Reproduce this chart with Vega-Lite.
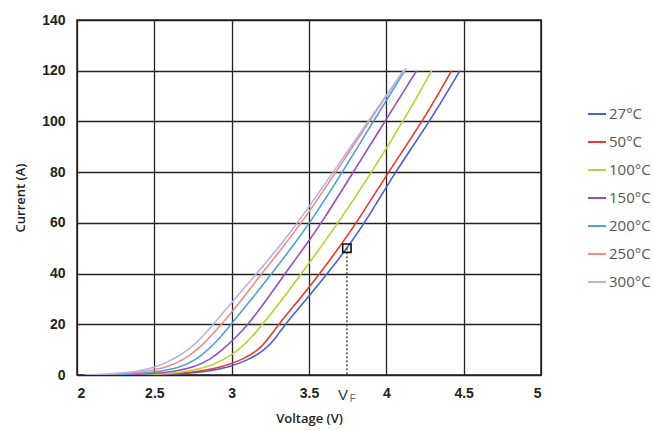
{
  "$schema": "https://vega.github.io/schema/vega-lite/v6.json",
  "width": 464,
  "height": 355,
  "autosize": "none",
  "padding": {"left": 77, "top": 20, "right": 113, "bottom": 55},
  "background": "white",
  "config": {
    "view": {"stroke": "#222", "strokeWidth": 1.5},
    "axis": {
      "labelFont": "Liberation Sans",
      "labelFontSize": 14,
      "labelFontWeight": "bold",
      "labelColor": "#222",
      "titleFont": "Open Sans",
      "titleFontSize": 13,
      "titleFontWeight": 600,
      "titleColor": "#222",
      "gridColor": "#222",
      "gridOpacity": 1,
      "gridWidth": 1.3,
      "ticks": false,
      "domain": false
    }
  },
  "datasets": {
    "curves": [
      {"v": 2.5, "i": 0, "temp": "27°C"}, {"v": 2.7, "i": 0.5, "temp": "27°C"}, {"v": 2.85, "i": 1.5, "temp": "27°C"}, {"v": 2.98, "i": 3, "temp": "27°C"}, {"v": 3.11, "i": 6, "temp": "27°C"}, {"v": 3.22, "i": 10, "temp": "27°C"}, {"v": 3.29, "i": 15, "temp": "27°C"}, {"v": 3.345, "i": 20, "temp": "27°C"}, {"v": 3.485, "i": 30, "temp": "27°C"}, {"v": 3.62, "i": 40, "temp": "27°C"}, {"v": 3.745, "i": 50, "temp": "27°C"}, {"v": 3.862, "i": 60, "temp": "27°C"}, {"v": 4.056, "i": 80, "temp": "27°C"}, {"v": 4.282, "i": 100, "temp": "27°C"}, {"v": 4.476, "i": 120, "temp": "27°C"},
      {"v": 2.45, "i": 0, "temp": "50°C"}, {"v": 2.65, "i": 0.5, "temp": "50°C"}, {"v": 2.8, "i": 1.5, "temp": "50°C"}, {"v": 2.93, "i": 3, "temp": "50°C"}, {"v": 3.07, "i": 6, "temp": "50°C"}, {"v": 3.18, "i": 10, "temp": "50°C"}, {"v": 3.245, "i": 15, "temp": "50°C"}, {"v": 3.303, "i": 20, "temp": "50°C"}, {"v": 3.44, "i": 30, "temp": "50°C"}, {"v": 3.571, "i": 40, "temp": "50°C"}, {"v": 3.69, "i": 50, "temp": "50°C"}, {"v": 3.808, "i": 60, "temp": "50°C"}, {"v": 4.012, "i": 80, "temp": "50°C"}, {"v": 4.235, "i": 100, "temp": "50°C"}, {"v": 4.422, "i": 120, "temp": "50°C"},
      {"v": 2.4, "i": 0, "temp": "100°C"}, {"v": 2.6, "i": 0.5, "temp": "100°C"}, {"v": 2.72, "i": 1.5, "temp": "100°C"}, {"v": 2.838, "i": 3, "temp": "100°C"}, {"v": 2.95, "i": 6, "temp": "100°C"}, {"v": 3.05, "i": 10, "temp": "100°C"}, {"v": 3.13, "i": 15, "temp": "100°C"}, {"v": 3.2, "i": 20, "temp": "100°C"}, {"v": 3.33, "i": 30, "temp": "100°C"}, {"v": 3.452, "i": 40, "temp": "100°C"}, {"v": 3.57, "i": 50, "temp": "100°C"}, {"v": 3.689, "i": 60, "temp": "100°C"}, {"v": 3.905, "i": 80, "temp": "100°C"}, {"v": 4.109, "i": 100, "temp": "100°C"}, {"v": 4.293, "i": 120, "temp": "100°C"},
      {"v": 2.3, "i": 0, "temp": "150°C"}, {"v": 2.5, "i": 0.5, "temp": "150°C"}, {"v": 2.64, "i": 1.5, "temp": "150°C"}, {"v": 2.752, "i": 3, "temp": "150°C"}, {"v": 2.86, "i": 6, "temp": "150°C"}, {"v": 2.942, "i": 10, "temp": "150°C"}, {"v": 3.03, "i": 15, "temp": "150°C"}, {"v": 3.108, "i": 20, "temp": "150°C"}, {"v": 3.23, "i": 30, "temp": "150°C"}, {"v": 3.345, "i": 40, "temp": "150°C"}, {"v": 3.465, "i": 50, "temp": "150°C"}, {"v": 3.582, "i": 60, "temp": "150°C"}, {"v": 3.786, "i": 80, "temp": "150°C"}, {"v": 3.991, "i": 100, "temp": "150°C"}, {"v": 4.196, "i": 120, "temp": "150°C"},
      {"v": 2.2, "i": 0, "temp": "200°C"}, {"v": 2.4, "i": 0.5, "temp": "200°C"}, {"v": 2.55, "i": 1.5, "temp": "200°C"}, {"v": 2.666, "i": 3, "temp": "200°C"}, {"v": 2.77, "i": 6, "temp": "200°C"}, {"v": 2.849, "i": 10, "temp": "200°C"}, {"v": 2.93, "i": 15, "temp": "200°C"}, {"v": 2.995, "i": 20, "temp": "200°C"}, {"v": 3.13, "i": 30, "temp": "200°C"}, {"v": 3.259, "i": 40, "temp": "200°C"}, {"v": 3.385, "i": 50, "temp": "200°C"}, {"v": 3.506, "i": 60, "temp": "200°C"}, {"v": 3.717, "i": 80, "temp": "200°C"}, {"v": 3.915, "i": 100, "temp": "200°C"}, {"v": 4.12, "i": 120, "temp": "200°C"},
      {"v": 2.1, "i": 0, "temp": "250°C"}, {"v": 2.3, "i": 0.5, "temp": "250°C"}, {"v": 2.46, "i": 1.5, "temp": "250°C"}, {"v": 2.58, "i": 3, "temp": "250°C"}, {"v": 2.69, "i": 6, "temp": "250°C"}, {"v": 2.78, "i": 10, "temp": "250°C"}, {"v": 2.86, "i": 15, "temp": "250°C"}, {"v": 2.935, "i": 20, "temp": "250°C"}, {"v": 3.07, "i": 30, "temp": "250°C"}, {"v": 3.194, "i": 40, "temp": "250°C"}, {"v": 3.325, "i": 50, "temp": "250°C"}, {"v": 3.452, "i": 60, "temp": "250°C"}, {"v": 3.674, "i": 80, "temp": "250°C"}, {"v": 3.89, "i": 100, "temp": "250°C"}, {"v": 4.11, "i": 120, "temp": "250°C"},
      {"v": 2.05, "i": 0, "temp": "300°C"}, {"v": 2.25, "i": 0.5, "temp": "300°C"}, {"v": 2.4, "i": 1.5, "temp": "300°C"}, {"v": 2.504, "i": 3, "temp": "300°C"}, {"v": 2.62, "i": 6, "temp": "300°C"}, {"v": 2.725, "i": 10, "temp": "300°C"}, {"v": 2.81, "i": 15, "temp": "300°C"}, {"v": 2.881, "i": 20, "temp": "300°C"}, {"v": 3.02, "i": 30, "temp": "300°C"}, {"v": 3.162, "i": 40, "temp": "300°C"}, {"v": 3.3, "i": 50, "temp": "300°C"}, {"v": 3.427, "i": 60, "temp": "300°C"}, {"v": 3.657, "i": 80, "temp": "300°C"}, {"v": 3.88, "i": 100, "temp": "300°C"}, {"v": 4.127, "i": 121, "temp": "300°C"}
    ],
    "marker": [{"v": 3.745, "i": 50}]
  },
  "layer": [
    {
      "data": {"name": "curves"},
      "mark": {"type": "line", "strokeWidth": 1.6, "clip": true, "interpolate": "basis"},
      "encoding": {
        "x": {
          "field": "v", "type": "quantitative",
          "scale": {"domain": [2, 5], "nice": false, "zero": false},
          "axis": {"values": [2, 2.5, 3, 3.5, 4, 4.5, 5], "title": "Voltage (V)", "labelPadding": 11, "titlePadding": 12, "format": "~g"}
        },
        "y": {
          "field": "i", "type": "quantitative",
          "scale": {"domain": [0, 140], "nice": false},
          "axis": {"values": [0, 20, 40, 60, 80, 100, 120, 140], "title": "Current (A)", "labelPadding": 12, "titlePadding": 14}
        },
        "color": {
          "field": "temp", "type": "nominal",
          "scale": {
            "domain": ["27°C", "50°C", "100°C", "150°C", "200°C", "250°C", "300°C"],
            "range": ["#4b5fd3", "#e8392c", "#b3d531", "#9a4cc2", "#4d9fe0", "#f28c84", "#b2b3ea"]
          },
          "legend": {
            "title": null,
            "orient": "none",
            "legendX": 510,
            "legendY": 84,
            "symbolType": "stroke",
            "symbolSize": 324,
            "symbolStrokeWidth": 2,
            "labelFont": "Open Sans",
            "labelFontSize": 15,
            "labelColor": "#555",
            "rowPadding": 10,
            "labelOffset": 2
          }
        },
        "order": {"field": "i", "type": "quantitative"}
      }
    },
    {
      "data": {"name": "marker"},
      "mark": {"type": "rule", "strokeDash": [2, 2], "color": "#333", "strokeWidth": 1.3},
      "encoding": {
        "x": {"field": "v", "type": "quantitative"},
        "y": {"field": "i", "type": "quantitative"},
        "y2": {"datum": 0}
      }
    },
    {
      "data": {"name": "marker"},
      "mark": {"type": "point", "shape": "square", "filled": false, "color": "#111", "strokeWidth": 1.6, "size": 70, "opacity": 1},
      "encoding": {
        "x": {"field": "v", "type": "quantitative"},
        "y": {"field": "i", "type": "quantitative"}
      }
    },
    {
      "data": {"name": "marker"},
      "mark": {"type": "text", "text": "V", "font": "Liberation Sans", "fontSize": 15, "color": "#333", "dx": -4, "dy": 20, "align": "center"},
      "encoding": {
        "x": {"field": "v", "type": "quantitative"},
        "y": {"datum": 0}
      }
    },
    {
      "data": {"name": "marker"},
      "mark": {"type": "text", "text": "F", "font": "Liberation Sans", "fontSize": 10, "color": "#666", "dx": 6, "dy": 24, "align": "center"},
      "encoding": {
        "x": {"field": "v", "type": "quantitative"},
        "y": {"datum": 0}
      }
    }
  ]
}
